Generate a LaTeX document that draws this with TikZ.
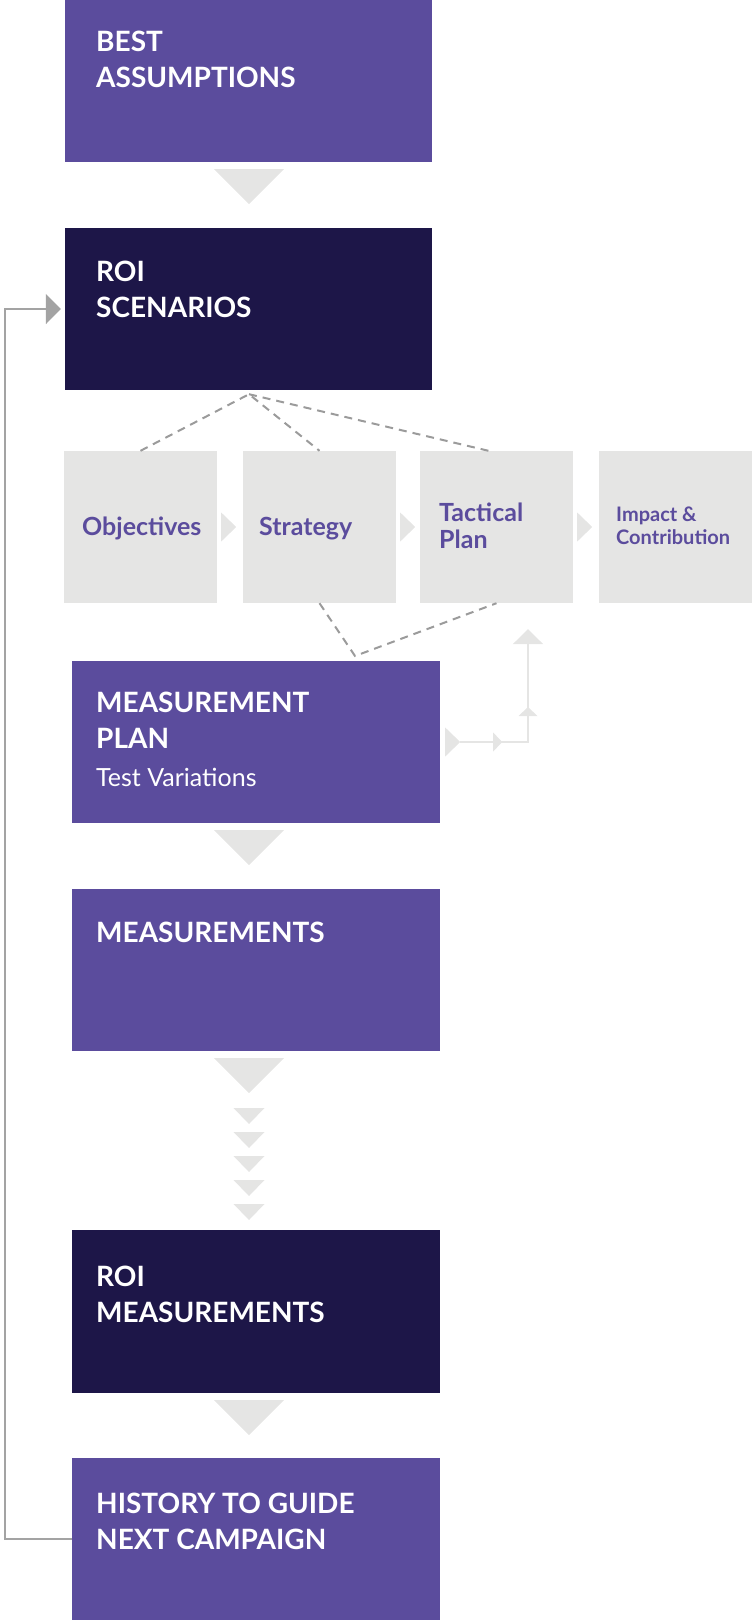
\documentclass[tikz,border=0pt]{standalone}
\usepackage{fontspec}
\setmainfont{Lato}
\usetikzlibrary{
  arrows.meta,
  positioning,
  calc
}
\definecolor{roiviolet}{RGB}{91,76,157}
\definecolor{roinavy}{RGB}{29,22,72}
\definecolor{panelgray}{RGB}{229,229,228}
\definecolor{dashgray}{RGB}{155,155,155}
\definecolor{loopgray}{RGB}{163,163,163}

\begin{document}
\begin{tikzpicture}[x=1pt, y=-1pt,
    stagebox/.style={draw=none, inner sep=0, minimum width=367, minimum height=162},
    panel/.style={fill=panelgray, draw=none, inner sep=0, minimum width=153, minimum height=152},
    headtext/.style={anchor=north west, inner sep=0, align=left, text=white,
      font=\fontsize{28}{36}\selectfont\bfseries},
    paneltext/.style={inner sep=0, align=left, text=roiviolet},
    tri/.style={fill=panelgray},
    dashline/.style={draw=dashgray, line width=2, dash pattern=on 8 off 6},
    branch/.style={draw=panelgray, line width=2.5}]
  \useasboundingbox (0,0) rectangle (752,1620);

  % main column
  \node[stagebox, fill=roiviolet] (best) at (248.5,81) {};
  \node[headtext] (bestT) at (96,31) {BEST\\ASSUMPTIONS};
  \node[stagebox, fill=roinavy] (scen) at (248.5,309) {};
  \node[headtext] (scenT) at (96,261) {ROI\\SCENARIOS};

  % planning row
  \node[panel] (obj) at (140.5,527) {};
  \node[panel] (strat) at (319.5,527) {};
  \node[panel] (tac) at (496.5,527) {};
  \node[panel] (imp) at (675.5,527) {};
  \node[paneltext, anchor=base west, font=\fontsize{25}{27}\selectfont\bfseries] (objT) at (82,535) {Objectives};
  \node[paneltext, anchor=base west, font=\fontsize{25}{27}\selectfont\bfseries] (stratT) at (259,535) {Strategy};
  \node[paneltext, anchor=north west, font=\fontsize{25}{27}\selectfont\bfseries] (tacT) at (439,503) {Tactical\\Plan};
  \node[paneltext, anchor=north west, font=\fontsize{20}{23}\selectfont\bfseries] (impT) at (616,507) {Impact \&\\Contribution};
  \foreach \a in {obj,strat,tac}
    \fill[tri] ($(\a.east)+(4,-14.5)$) -- ($(\a.east)+(19,0)$) -- ($(\a.east)+(4,14.5)$) -- cycle;

  \node[stagebox, minimum width=368, fill=roiviolet] (mplan) at (256,742) {};
  \node[headtext] (mplanT) at (96,692) {MEASUREMENT\\PLAN};
  \node[anchor=north west, inner sep=0, text=white, font=\fontsize{25}{28}\selectfont] (testT) at (96,768) {Test Variations};
  \node[stagebox, minimum width=368, fill=roiviolet] (meas) at (256,970) {};
  \node[headtext] (measT) at (96,922) {MEASUREMENTS};
  \node[stagebox, minimum width=368, minimum height=163, fill=roinavy] (roim) at (256,1311.5) {};
  \node[headtext] (roimT) at (96,1266) {ROI\\MEASUREMENTS};
  \node[stagebox, minimum width=368, fill=roiviolet] (hist) at (256,1539) {};
  \node[headtext] (histT) at (96,1493) {HISTORY TO GUIDE\\NEXT CAMPAIGN};

  % dashed links
  \coordinate (apex) at ($(scen.south)+(0.5,4)$);
  \coordinate (meet) at (355,656);
  \draw[dashline] (obj.north) -- (apex) -- (strat.north);
  \draw[dashline] (apex) -- ($(tac.north)+(-8,0)$);
  \draw[dashline] (strat.south) -- (meet) -- (tac.south);

  % flow triangles
  \coordinate (spine) at (249,0);
  \foreach \a in {best,mplan,meas,roim}
    \fill[tri] ($(spine |- \a.south)+(-35,7)$) -- ++(70,0) -- ($(spine |- \a.south)+(0,42)$) -- cycle;
  \foreach \k in {0,...,4}
    \fill[tri] ($(spine)+(-15.5,{1108+24*\k})$) -- ++(31,0) -- ++(-15.5,16) -- cycle;

  % test branch back to the tactical plan
  \coordinate (tacIn) at ($(tac.south)+(31.5,26)$);
  \draw[branch, -{Triangle[length=15,width=30]}] ($(mplan.east)+(20,0)$) -| (tacIn);
  \fill[tri] ($(mplan.east)+(5,-14.5)$) -- ($(mplan.east)+(20,0)$) -- ($(mplan.east)+(5,14.5)$) -- cycle;
  \fill[tri] ($(mplan.east)+(53,-9.5)$) -- ($(mplan.east)+(62,0)$) -- ($(mplan.east)+(53,9.5)$) -- cycle;
  \fill[tri] (tacIn |- 0,716) -- ++(-9.5,0) -- ++(9.5,-9) -- ++(9.5,9) -- cycle;

  % feedback loop
  \draw[draw=loopgray, line width=2, -{Triangle[length=15,width=30]}, shorten >=4]
    (hist.west) -- ++(-67,0) |- (scen.west);
\end{tikzpicture}
\end{document}
